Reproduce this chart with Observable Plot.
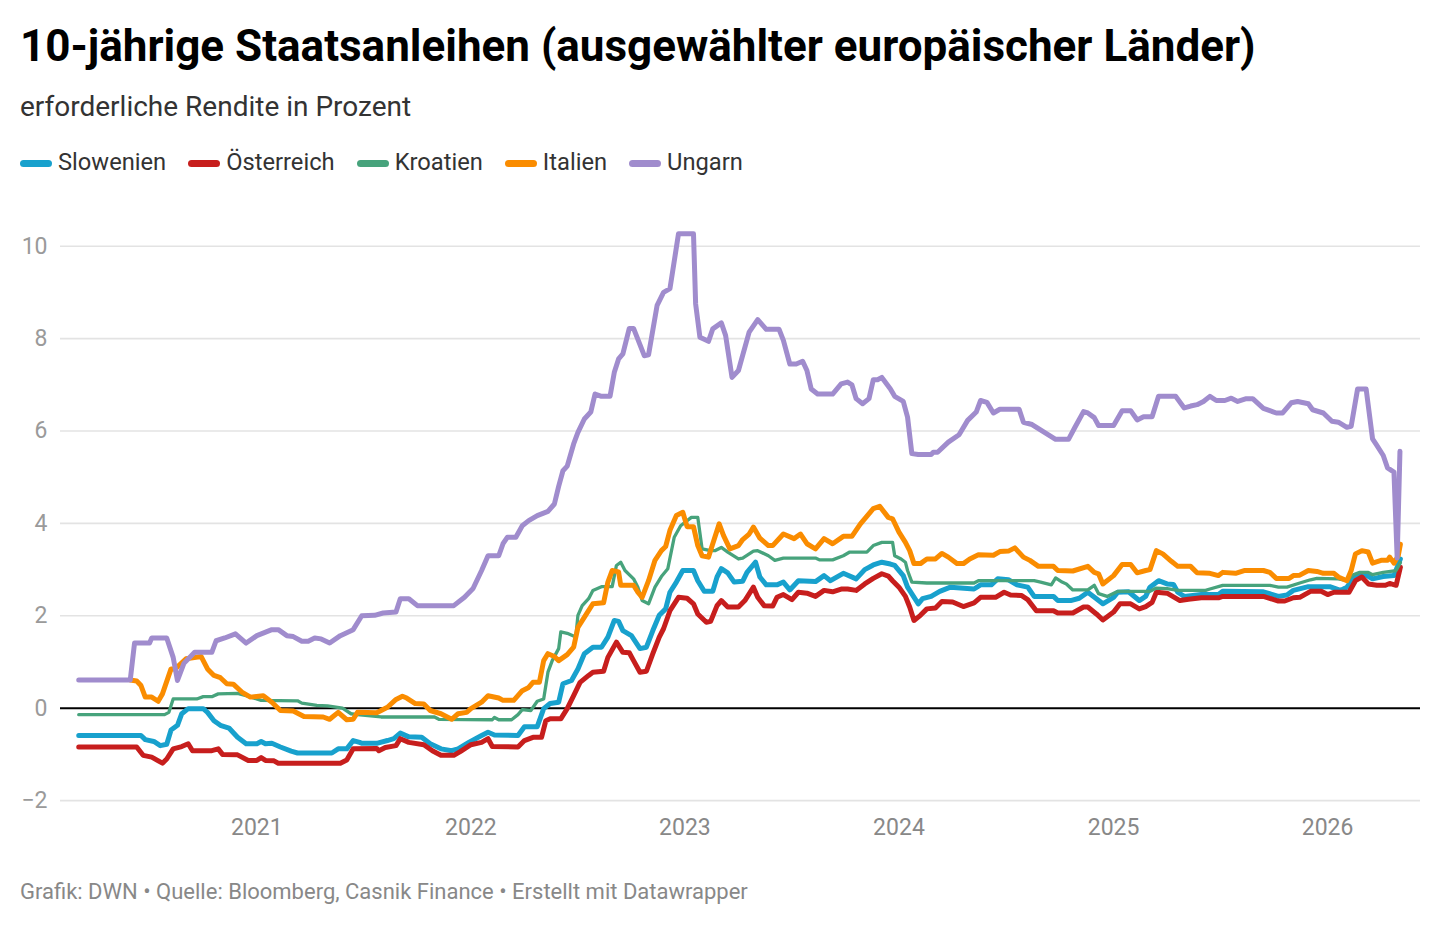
<!DOCTYPE html>
<html lang="de">
<head>
<meta charset="utf-8">
<script src="https://cdn.jsdelivr.net/npm/d3@7"></script>
<script src="https://cdn.jsdelivr.net/npm/@observablehq/plot@0.6"></script>
<style>
  html, body { margin: 0; padding: 0; background: #fff; }
  body { width: 1440px; height: 926px; position: relative; font-family: Roboto, "Noto Sans", sans-serif; overflow: hidden; }
  .title { position: absolute; left: 20px; top: 24px; font-size: 44px; line-height: 1; font-weight: 700; color: #000; white-space: nowrap; }
  .subtitle { position: absolute; left: 20px; top: 93px; font-size: 28px; line-height: 1; color: #333; white-space: nowrap; }
  .legend { position: absolute; left: 20px; top: 151px; font-size: 23.7px; line-height: 1; color: #333; display: flex; white-space: nowrap; }
  .legend .item { display: flex; align-items: center; margin-right: 22px; }
  .legend .sw { width: 32px; height: 7px; border-radius: 4px; margin-right: 6px; position: relative; top: 1px; }
  #chart { position: absolute; left: 0; top: 200px; }
  .footer { position: absolute; left: 20px; top: 881px; font-size: 22px; line-height: 1; color: #888; white-space: nowrap; }
</style>
</head>
<body>
<div class="title">10-jährige Staatsanleihen (ausgewählter europäischer Länder)</div>
<div class="subtitle">erforderliche Rendite in Prozent</div>
<div class="legend" id="legend"></div>
<div id="chart"></div>
<div class="footer">Grafik: DWN • Quelle: Bloomberg, Casnik Finance • Erstellt mit Datawrapper</div>
<script>
// ---- Data: [decimal year, yield in %] ----
const seriesNames = ["Slowenien", "Österreich", "Kroatien", "Italien", "Ungarn"];
const seriesColors = ["#18a1cd", "#c71e1d", "#47a37c", "#fa8c00", "#a08ccd"];
const yTicks = [-2, 0, 2, 4, 6, 8, 10];
const yearTicks = [2021, 2022, 2023, 2024, 2025, 2026];

const slowenien = [[2020.17,-0.59],[2020.46,-0.59],[2020.48,-0.68],[2020.52,-0.72],[2020.55,-0.81],[2020.58,-0.78],[2020.60,-0.47],[2020.63,-0.37],[2020.65,-0.12],[2020.68,-0.01],[2020.75,-0.01],[2020.77,-0.09],[2020.80,-0.27],[2020.83,-0.37],[2020.87,-0.43],[2020.91,-0.63],[2020.95,-0.77],[2021.00,-0.77],[2021.02,-0.72],[2021.04,-0.77],[2021.07,-0.76],[2021.11,-0.84],[2021.16,-0.93],[2021.19,-0.97],[2021.35,-0.97],[2021.38,-0.88],[2021.42,-0.88],[2021.45,-0.70],[2021.48,-0.74],[2021.49,-0.76],[2021.56,-0.76],[2021.61,-0.70],[2021.64,-0.66],[2021.67,-0.54],[2021.71,-0.62],[2021.77,-0.63],[2021.81,-0.77],[2021.86,-0.88],[2021.91,-0.92],[2021.94,-0.88],[2021.99,-0.74],[2022.05,-0.59],[2022.08,-0.52],[2022.11,-0.58],[2022.22,-0.59],[2022.25,-0.40],[2022.31,-0.40],[2022.34,-0.01],[2022.37,0.10],[2022.41,0.13],[2022.43,0.53],[2022.47,0.60],[2022.50,0.85],[2022.53,1.18],[2022.57,1.32],[2022.61,1.32],[2022.64,1.54],[2022.67,1.90],[2022.69,1.88],[2022.71,1.68],[2022.75,1.57],[2022.79,1.29],[2022.82,1.32],[2022.85,1.68],[2022.88,2.01],[2022.91,2.15],[2022.93,2.51],[2022.96,2.73],[2022.99,2.98],[2023.04,2.98],[2023.06,2.76],[2023.09,2.53],[2023.13,2.53],[2023.15,2.84],[2023.17,3.02],[2023.20,2.93],[2023.23,2.73],[2023.27,2.75],[2023.29,2.94],[2023.33,3.16],[2023.35,2.84],[2023.38,2.67],[2023.43,2.67],[2023.46,2.73],[2023.49,2.56],[2023.53,2.76],[2023.61,2.74],[2023.65,2.87],[2023.68,2.76],[2023.74,2.92],[2023.80,2.80],[2023.84,3.00],[2023.88,3.10],[2023.92,3.16],[2023.96,3.12],[2023.98,3.09],[2024.02,2.87],[2024.04,2.62],[2024.09,2.26],[2024.11,2.37],[2024.15,2.42],[2024.19,2.53],[2024.24,2.62],[2024.35,2.58],[2024.38,2.67],[2024.43,2.67],[2024.46,2.80],[2024.51,2.78],[2024.55,2.67],[2024.60,2.62],[2024.63,2.42],[2024.72,2.42],[2024.74,2.33],[2024.80,2.33],[2024.84,2.38],[2024.88,2.51],[2024.92,2.37],[2024.95,2.26],[2025.00,2.40],[2025.02,2.51],[2025.07,2.52],[2025.12,2.33],[2025.15,2.42],[2025.17,2.62],[2025.21,2.76],[2025.25,2.69],[2025.28,2.68],[2025.30,2.51],[2025.33,2.42],[2025.41,2.46],[2025.49,2.46],[2025.51,2.53],[2025.70,2.52],[2025.77,2.42],[2025.81,2.45],[2025.84,2.55],[2025.91,2.63],[2026.01,2.63],[2026.06,2.55],[2026.09,2.62],[2026.13,2.87],[2026.17,2.91],[2026.21,2.80],[2026.26,2.85],[2026.31,2.87],[2026.34,3.23]];

const oesterreich = [[2020.17,-0.84],[2020.44,-0.84],[2020.47,-1.02],[2020.51,-1.06],[2020.56,-1.19],[2020.58,-1.10],[2020.61,-0.88],[2020.65,-0.83],[2020.68,-0.77],[2020.70,-0.92],[2020.79,-0.92],[2020.82,-0.88],[2020.84,-1.00],[2020.91,-1.01],[2020.96,-1.13],[2021.00,-1.13],[2021.02,-1.07],[2021.04,-1.13],[2021.08,-1.14],[2021.10,-1.19],[2021.39,-1.19],[2021.42,-1.12],[2021.45,-0.88],[2021.56,-0.87],[2021.57,-0.92],[2021.60,-0.85],[2021.65,-0.81],[2021.67,-0.66],[2021.71,-0.74],[2021.78,-0.79],[2021.82,-0.92],[2021.86,-1.02],[2021.92,-1.02],[2021.95,-0.94],[2022.00,-0.79],[2022.05,-0.74],[2022.08,-0.66],[2022.10,-0.83],[2022.22,-0.84],[2022.25,-0.70],[2022.29,-0.63],[2022.33,-0.63],[2022.35,-0.27],[2022.37,-0.23],[2022.42,-0.23],[2022.45,-0.01],[2022.48,0.27],[2022.51,0.56],[2022.55,0.71],[2022.57,0.78],[2022.62,0.80],[2022.64,1.10],[2022.68,1.43],[2022.71,1.21],[2022.74,1.20],[2022.76,1.03],[2022.79,0.78],[2022.82,0.80],[2022.85,1.18],[2022.88,1.54],[2022.90,1.72],[2022.93,2.11],[2022.97,2.40],[2023.01,2.38],[2023.04,2.26],[2023.06,2.04],[2023.10,1.86],[2023.12,1.88],[2023.15,2.22],[2023.17,2.33],[2023.20,2.19],[2023.25,2.19],[2023.28,2.33],[2023.32,2.62],[2023.34,2.40],[2023.37,2.22],[2023.41,2.21],[2023.43,2.40],[2023.46,2.46],[2023.50,2.35],[2023.53,2.51],[2023.57,2.49],[2023.61,2.42],[2023.65,2.55],[2023.69,2.52],[2023.73,2.58],[2023.76,2.58],[2023.80,2.55],[2023.84,2.69],[2023.88,2.81],[2023.92,2.91],[2023.95,2.86],[2023.97,2.76],[2024.00,2.62],[2024.03,2.42],[2024.05,2.19],[2024.07,1.90],[2024.10,2.01],[2024.13,2.15],[2024.17,2.17],[2024.20,2.31],[2024.25,2.30],[2024.30,2.20],[2024.35,2.28],[2024.38,2.40],[2024.45,2.40],[2024.49,2.51],[2024.52,2.45],[2024.57,2.44],[2024.60,2.35],[2024.64,2.11],[2024.72,2.11],[2024.74,2.06],[2024.81,2.06],[2024.86,2.19],[2024.88,2.19],[2024.92,2.04],[2024.95,1.91],[2025.00,2.08],[2025.03,2.26],[2025.08,2.26],[2025.12,2.15],[2025.15,2.20],[2025.18,2.29],[2025.20,2.51],[2025.25,2.49],[2025.31,2.33],[2025.35,2.36],[2025.41,2.39],[2025.49,2.39],[2025.51,2.42],[2025.70,2.42],[2025.77,2.32],[2025.80,2.32],[2025.84,2.39],[2025.87,2.40],[2025.92,2.53],[2025.97,2.53],[2026.00,2.46],[2026.03,2.51],[2026.10,2.51],[2026.13,2.76],[2026.16,2.84],[2026.19,2.69],[2026.23,2.66],[2026.27,2.66],[2026.29,2.70],[2026.32,2.66],[2026.34,3.05]];

const kroatien = [[2020.17,-0.14],[2020.57,-0.14],[2020.59,-0.09],[2020.61,0.20],[2020.72,0.20],[2020.75,0.25],[2020.79,0.25],[2020.82,0.31],[2020.91,0.32],[2020.95,0.27],[2021.02,0.17],[2021.19,0.16],[2021.21,0.11],[2021.28,0.06],[2021.33,0.05],[2021.40,0.00],[2021.44,-0.12],[2021.47,-0.14],[2021.58,-0.19],[2021.83,-0.19],[2021.85,-0.24],[2022.10,-0.25],[2022.11,-0.20],[2022.13,-0.25],[2022.19,-0.25],[2022.22,-0.14],[2022.24,-0.03],[2022.28,-0.05],[2022.31,0.15],[2022.34,0.20],[2022.36,0.78],[2022.38,1.03],[2022.41,1.29],[2022.42,1.65],[2022.45,1.62],[2022.49,1.54],[2022.50,2.01],[2022.52,2.22],[2022.55,2.37],[2022.57,2.55],[2022.61,2.63],[2022.66,2.63],[2022.68,3.09],[2022.70,3.16],[2022.72,2.98],[2022.76,2.80],[2022.78,2.62],[2022.80,2.33],[2022.83,2.26],[2022.86,2.62],[2022.89,2.85],[2022.92,3.02],[2022.95,3.70],[2022.98,3.95],[2023.03,4.13],[2023.06,4.13],[2023.08,3.45],[2023.12,3.41],[2023.14,3.41],[2023.17,3.48],[2023.20,3.38],[2023.25,3.23],[2023.27,3.25],[2023.32,3.40],[2023.34,3.41],[2023.39,3.30],[2023.42,3.20],[2023.46,3.25],[2023.61,3.25],[2023.63,3.21],[2023.69,3.21],[2023.74,3.30],[2023.77,3.38],[2023.85,3.38],[2023.88,3.52],[2023.92,3.59],[2023.97,3.59],[2023.98,3.30],[2024.01,3.23],[2024.03,3.16],[2024.04,2.98],[2024.06,2.73],[2024.13,2.71],[2024.35,2.71],[2024.37,2.76],[2024.63,2.76],[2024.66,2.73],[2024.71,2.67],[2024.73,2.82],[2024.76,2.73],[2024.78,2.69],[2024.81,2.56],[2024.88,2.56],[2024.91,2.66],[2024.93,2.48],[2024.97,2.42],[2025.02,2.53],[2025.17,2.53],[2025.20,2.60],[2025.25,2.59],[2025.30,2.55],[2025.43,2.55],[2025.45,2.58],[2025.51,2.66],[2025.73,2.66],[2025.77,2.62],[2025.81,2.62],[2025.87,2.71],[2025.92,2.78],[2025.95,2.81],[2026.05,2.80],[2026.09,2.76],[2026.12,2.89],[2026.15,2.94],[2026.19,2.94],[2026.21,2.89],[2026.26,2.94],[2026.32,2.98],[2026.34,3.15]];

const italien = [[2020.41,0.61],[2020.44,0.59],[2020.46,0.49],[2020.48,0.24],[2020.51,0.24],[2020.54,0.15],[2020.56,0.31],[2020.60,0.85],[2020.62,0.85],[2020.67,1.07],[2020.74,1.12],[2020.77,0.85],[2020.80,0.71],[2020.83,0.66],[2020.86,0.53],[2020.89,0.52],[2020.93,0.35],[2020.97,0.24],[2021.03,0.27],[2021.07,0.13],[2021.11,-0.05],[2021.17,-0.06],[2021.22,-0.18],[2021.31,-0.19],[2021.34,-0.24],[2021.38,-0.09],[2021.42,-0.25],[2021.45,-0.24],[2021.47,-0.09],[2021.56,-0.10],[2021.61,0.02],[2021.65,0.19],[2021.68,0.26],[2021.70,0.22],[2021.74,0.10],[2021.78,0.09],[2021.81,-0.05],[2021.86,-0.12],[2021.91,-0.24],[2021.94,-0.12],[2021.98,-0.09],[2022.00,-0.01],[2022.05,0.13],[2022.08,0.27],[2022.13,0.22],[2022.15,0.17],[2022.20,0.17],[2022.24,0.38],[2022.27,0.45],[2022.29,0.56],[2022.32,0.56],[2022.34,1.03],[2022.36,1.18],[2022.39,1.12],[2022.41,1.03],[2022.45,1.16],[2022.48,1.32],[2022.50,1.75],[2022.54,2.04],[2022.57,2.26],[2022.62,2.28],[2022.64,2.73],[2022.66,2.98],[2022.69,2.95],[2022.70,2.66],[2022.76,2.66],[2022.78,2.51],[2022.80,2.40],[2022.83,2.76],[2022.86,3.20],[2022.89,3.41],[2022.91,3.50],[2022.93,3.85],[2022.96,4.17],[2022.99,4.24],[2023.01,3.93],[2023.04,3.93],[2023.06,3.52],[2023.08,3.30],[2023.11,3.27],[2023.13,3.56],[2023.16,3.99],[2023.18,3.74],[2023.21,3.45],[2023.25,3.52],[2023.27,3.65],[2023.30,3.77],[2023.32,3.92],[2023.35,3.68],[2023.39,3.52],[2023.41,3.52],[2023.46,3.77],[2023.51,3.67],[2023.54,3.77],[2023.57,3.56],[2023.61,3.45],[2023.65,3.67],[2023.69,3.56],[2023.74,3.72],[2023.78,3.72],[2023.82,3.99],[2023.88,4.32],[2023.91,4.37],[2023.95,4.13],[2023.97,4.10],[2024.00,3.81],[2024.03,3.59],[2024.05,3.41],[2024.07,3.13],[2024.10,3.13],[2024.13,3.23],[2024.17,3.23],[2024.20,3.35],[2024.23,3.27],[2024.27,3.13],[2024.30,3.13],[2024.33,3.23],[2024.37,3.32],[2024.44,3.31],[2024.47,3.39],[2024.51,3.40],[2024.54,3.47],[2024.58,3.27],[2024.61,3.20],[2024.65,3.07],[2024.72,3.07],[2024.74,2.98],[2024.81,2.97],[2024.88,3.07],[2024.91,2.94],[2024.93,2.91],[2024.95,2.69],[2025.00,2.87],[2025.04,3.11],[2025.08,3.11],[2025.11,2.93],[2025.15,2.98],[2025.17,3.00],[2025.20,3.41],[2025.23,3.34],[2025.27,3.18],[2025.30,3.07],[2025.36,3.07],[2025.39,2.93],[2025.45,2.92],[2025.49,2.87],[2025.51,2.94],[2025.57,2.92],[2025.61,2.98],[2025.70,2.98],[2025.73,2.94],[2025.76,2.81],[2025.82,2.81],[2025.84,2.87],[2025.87,2.88],[2025.91,2.98],[2025.95,2.96],[2025.98,2.92],[2026.03,2.92],[2026.05,2.84],[2026.09,2.76],[2026.11,2.98],[2026.13,3.34],[2026.16,3.41],[2026.19,3.38],[2026.21,3.14],[2026.25,3.20],[2026.28,3.20],[2026.29,3.27],[2026.31,3.14],[2026.33,3.30],[2026.34,3.55]];

const ungarn = [[2020.17,0.61],[2020.41,0.61],[2020.43,1.41],[2020.50,1.41],[2020.51,1.52],[2020.58,1.52],[2020.61,1.10],[2020.63,0.60],[2020.66,0.97],[2020.71,1.21],[2020.79,1.21],[2020.81,1.46],[2020.85,1.52],[2020.90,1.61],[2020.95,1.41],[2021.00,1.57],[2021.07,1.70],[2021.10,1.70],[2021.14,1.57],[2021.17,1.55],[2021.21,1.45],[2021.24,1.45],[2021.27,1.52],[2021.30,1.50],[2021.34,1.41],[2021.39,1.57],[2021.45,1.70],[2021.49,2.00],[2021.55,2.01],[2021.59,2.06],[2021.65,2.08],[2021.67,2.37],[2021.71,2.37],[2021.75,2.22],[2021.92,2.22],[2021.97,2.40],[2022.01,2.59],[2022.05,2.98],[2022.08,3.30],[2022.13,3.30],[2022.15,3.56],[2022.17,3.70],[2022.21,3.70],[2022.24,3.95],[2022.27,4.06],[2022.31,4.17],[2022.36,4.26],[2022.39,4.42],[2022.41,4.80],[2022.43,5.14],[2022.45,5.24],[2022.48,5.72],[2022.50,5.97],[2022.53,6.26],[2022.56,6.41],[2022.58,6.80],[2022.61,6.75],[2022.65,6.75],[2022.67,7.27],[2022.69,7.56],[2022.71,7.67],[2022.74,8.22],[2022.76,8.22],[2022.81,7.63],[2022.83,7.65],[2022.87,8.72],[2022.90,9.00],[2022.93,9.08],[2022.97,10.27],[2023.04,10.27],[2023.05,8.75],[2023.07,8.03],[2023.11,7.94],[2023.13,8.21],[2023.17,8.34],[2023.19,8.07],[2023.22,7.16],[2023.25,7.31],[2023.30,8.14],[2023.34,8.41],[2023.38,8.20],[2023.44,8.20],[2023.46,7.96],[2023.49,7.45],[2023.52,7.45],[2023.55,7.51],[2023.57,7.31],[2023.59,6.91],[2023.62,6.80],[2023.69,6.80],[2023.73,7.02],[2023.76,7.06],[2023.78,7.00],[2023.80,6.70],[2023.83,6.59],[2023.86,6.70],[2023.88,7.11],[2023.90,7.11],[2023.92,7.16],[2023.96,6.91],[2023.98,6.75],[2024.02,6.64],[2024.04,6.30],[2024.06,5.51],[2024.09,5.49],[2024.15,5.49],[2024.16,5.54],[2024.18,5.54],[2024.23,5.76],[2024.28,5.92],[2024.32,6.23],[2024.36,6.41],[2024.38,6.66],[2024.41,6.62],[2024.44,6.39],[2024.47,6.47],[2024.56,6.47],[2024.58,6.19],[2024.62,6.14],[2024.65,6.05],[2024.73,5.82],[2024.79,5.82],[2024.82,6.08],[2024.86,6.42],[2024.88,6.39],[2024.91,6.29],[2024.93,6.12],[2025.00,6.12],[2025.04,6.44],[2025.08,6.44],[2025.11,6.24],[2025.14,6.31],[2025.18,6.31],[2025.21,6.75],[2025.29,6.75],[2025.33,6.50],[2025.36,6.54],[2025.39,6.57],[2025.42,6.64],[2025.45,6.75],[2025.48,6.66],[2025.52,6.66],[2025.55,6.71],[2025.58,6.64],[2025.62,6.70],[2025.65,6.70],[2025.70,6.49],[2025.73,6.44],[2025.76,6.39],[2025.79,6.39],[2025.83,6.61],[2025.86,6.64],[2025.91,6.59],[2025.93,6.46],[2025.98,6.39],[2026.02,6.21],[2026.05,6.19],[2026.09,6.08],[2026.11,6.10],[2026.14,6.91],[2026.18,6.91],[2026.21,5.83],[2026.23,5.69],[2026.26,5.47],[2026.28,5.20],[2026.31,5.11],[2026.325,3.25],[2026.338,5.56]];

const allSeries = [slowenien, oesterreich, kroatien, italien, ungarn];

// decimal year -> Date (UTC)
function toDate(t) {
  const y = Math.floor(t);
  const a = Date.UTC(y, 0, 1), b = Date.UTC(y + 1, 0, 1);
  return new Date(a + (t - y) * (b - a));
}

// Legend
const legend = document.getElementById("legend");
seriesNames.forEach((name, i) => {
  const item = document.createElement("div");
  item.className = "item";
  const sw = document.createElement("span");
  sw.className = "sw";
  sw.style.background = seriesColors[i];
  const label = document.createElement("span");
  label.textContent = name;
  item.appendChild(sw); item.appendChild(label);
  legend.appendChild(item);
});

const lineMarks = allSeries.map((s, i) => Plot.line(s, {
  x: d => toDate(d[0]),
  y: d => d[1],
  stroke: seriesColors[i],
  strokeWidth: seriesNames[i] === "Kroatien" ? 3.3 : 5,
  strokeLinejoin: "round",
  strokeLinecap: "round"
}));

const chart = Plot.plot({
  width: 1440,
  height: 650,
  marginTop: 45.7,
  marginBottom: 49.9,
  marginLeft: 60,
  marginRight: 20,
  style: { fontFamily: "Roboto, sans-serif", background: "transparent", overflow: "visible" },
  x: { type: "utc", domain: [toDate(2020.085), toDate(2026.434)] },
  y: { domain: [-2, 10] },
  marks: [
    Plot.gridY(yTicks.filter(v => v !== 0), { stroke: "#e3e3e3", strokeOpacity: 1, strokeWidth: 1.6 }),
    Plot.axisY(yTicks, { tickSize: 0, tickPadding: 13, fontSize: 23, color: "#9a9a9a", tickFormat: d => d < 0 ? "\u2212" + Math.abs(d) : String(d) }),
    Plot.axisX(yearTicks.map(y => toDate(y)), { tickSize: 0, tickPadding: 18, fontSize: 23, color: "#888", tickFormat: d => String(d.getUTCFullYear()) }),
    Plot.ruleY([0], { stroke: "#000", strokeWidth: 2 }),
    ...lineMarks
  ]
});
document.getElementById("chart").appendChild(chart);
</script>
</body>
</html>
